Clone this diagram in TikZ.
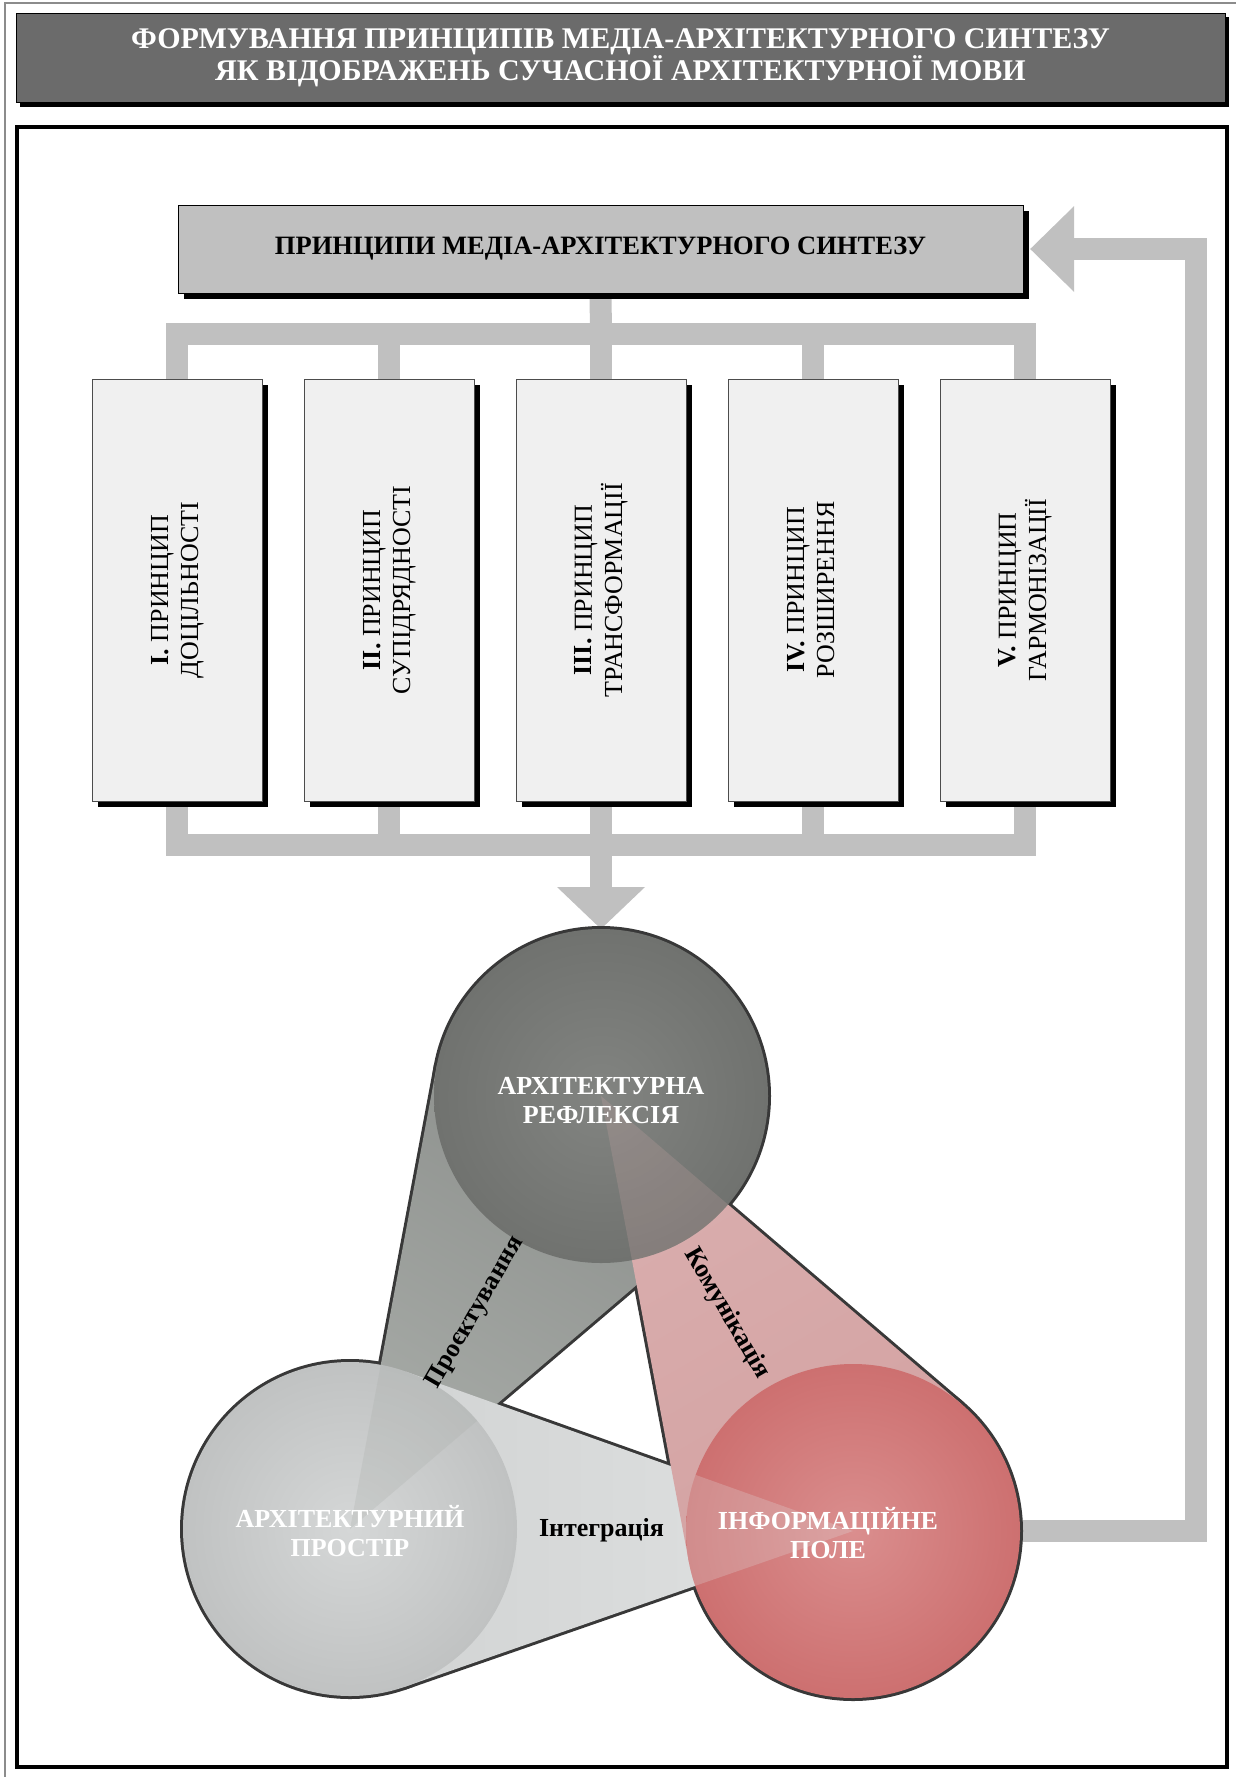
\documentclass[tikz,border=0pt]{standalone}
\usepackage{fontspec}
\setmainfont{Liberation Serif}
\usetikzlibrary{calc,shadows}

\definecolor{busgray}{HTML}{C0C0C0}
\definecolor{headgray}{HTML}{6B6B6B}
\definecolor{paper}{HTML}{F0F0F0}
\definecolor{rimline}{HTML}{383838}
% sphere and cone colours
\definecolor{reflin}{RGB}{130,132,129}
\definecolor{reflout}{RGB}{112,114,111}
\definecolor{spacein}{RGB}{213,215,215}
\definecolor{spaceout}{RGB}{192,194,194}
\definecolor{infoin}{RGB}{218,142,142}
\definecolor{infoout}{RGB}{205,112,112}
\definecolor{projtop}{RGB}{140,143,140}
\definecolor{projbot}{RGB}{168,172,168}
\definecolor{integl}{RGB}{210,212,212}
\definecolor{integr}{RGB}{224,226,226}
\definecolor{kommtop}{RGB}{217,174,174}
\definecolor{kommbot}{RGB}{212,162,162}

\pgfdeclarelayer{back}
\pgfsetlayers{back,main}

\begin{document}
\begin{tikzpicture}[x=1pt,y=-1pt,
  font=\fontsize{26}{30}\selectfont,
  shadowed/.style={drop shadow={shadow xshift=#1,shadow yshift=-#1,opacity=1,fill=black}},
  titlebox/.style={draw=black,fill=headgray,text=white,align=center,
    font=\fontsize{30}{30}\selectfont\bfseries,
    minimum width=1209pt,minimum height=89pt,shadowed=4pt},
  mainbox/.style={draw=black,fill=busgray,font=\fontsize{26.5}{30}\selectfont\bfseries,
    minimum width=845pt,minimum height=88pt,shadowed=6pt},
  prbox/.style={draw=black!70,fill=paper,minimum width=170pt,minimum height=422pt,
    inner sep=0pt,shadowed=6pt},
  hub/.style={circle,minimum size=334pt,inner sep=0pt,outer sep=0pt},
  hubtext/.style={text=white,align=center,inner sep=0pt,font=\fontsize{26}{29}\selectfont\bfseries},
  conelabel/.style={inner sep=0pt,font=\fontsize{26}{30}\selectfont\bfseries},
  bus/.style={draw=busgray,line width=22pt,line join=miter},
  rim/.style={draw=rimline,line width=6pt,line join=round},
]
\useasboundingbox (0,0) rectangle (1236,1777);

% page edge and frame
\draw[black!45,line width=1.5pt] (5,1777) -- (5,3) -- (1236,3);
\draw[line width=3.5pt] (17,127) rectangle (1227,1767);

\node[titlebox] (title) at (620.5,58)
  {ФОРМУВАННЯ ПРИНЦИПІВ МЕДІА-АРХІТЕКТУРНОГО СИНТЕЗУ\\ЯК ВІДОБРАЖЕНЬ СУЧАСНОЇ АРХІТЕКТУРНОЇ МОВИ};

\node[mainbox] (princ) at (600.5,249) {ПРИНЦИПИ МЕДІА-АРХІТЕКТУРНОГО СИНТЕЗУ};

% the five principles
\foreach \num/\word [count=\i] in {I./ДОЦІЛЬНОСТІ,II./СУПІДРЯДНОСТІ,III./ТРАНСФОРМАЦІЇ,IV./РОЗШИРЕННЯ,V./ГАРМОНІЗАЦІЇ}
  \node[prbox] (p\i) at (-35+212*\i,590)
    {\rotatebox{90}{\begin{tabular}{@{}c@{}}\textbf{\num} ПРИНЦИП\\\word\end{tabular}}};

% three spheres
\node[hub] (refl)  at (601,1096) {};
\node[hub] (space) at (350,1529) {};
\node[hub] (info)  at (853,1531) {};

\node[hubtext] (refl-txt)  at ($(refl)+(0,5)$)    {АРХІТЕКТУРНА\\РЕФЛЕКСІЯ};
\node[hubtext] (space-txt) at ($(space)+(0,2)$)   {АРХІТЕКТУРНИЙ\\ПРОСТІР};
\node[hubtext] (info-txt)  at ($(info)+(-25,2)$)  {ІНФОРМАЦІЙНЕ\\ПОЛЕ};

% cones: tangents from the centre of one sphere to the next one
\coordinate (pa) at (tangent cs:node=refl,point={(space.center)},solution=1);
\coordinate (pb) at (tangent cs:node=refl,point={(space.center)},solution=2);
\coordinate (ia) at (tangent cs:node=space,point={(info.center)},solution=1);
\coordinate (ib) at (tangent cs:node=space,point={(info.center)},solution=2);
\coordinate (ka) at (tangent cs:node=info,point={(refl.center)},solution=1);
\coordinate (kb) at (tangent cs:node=info,point={(refl.center)},solution=2);

\path (space.center) -- node[conelabel,sloped] (proj-lbl) {Проєктування} (refl.center);
\path (space.center) -- node[conelabel] (integ-lbl) {Інтеграція} (info.center);
\path (refl.center) -- node[conelabel,sloped] (komm-lbl) {Комунікація} (info.center);

\begin{pgfonlayer}{back}
  % bus lines
  \coordinate (bt) at (601,334);
  \coordinate (bb) at (601,845);
  \draw[bus] (p1.north) |- (bt) -| (p5.north);
  \draw[bus] (princ.south) -- (bt);
  \foreach \i in {2,3,4} \draw[bus] (p\i.north) -- (p\i.north |- bt);
  \draw[bus] (p1.south) |- (bb) -| (p5.south);
  \foreach \i in {2,3,4} \draw[bus] (p\i.south) -- (p\i.south |- bb);
  \draw[bus] (bb) -- ($(refl.north)+(0,-41)$);
  \fill[busgray] ($(refl.north)+(-44,-42)$) -- ($(refl.north)+(44,-42)$) -- (refl.north) -- cycle;

  % feedback
  \coordinate (fb) at ($(princ.east)+(173,0)$);
  \draw[bus] (info.east) -| (fb) -- ($(princ.east)+(51,0)$);
  \fill[busgray] ($(princ.east)+(51,-43)$) -- ($(princ.east)+(51,43)$) -- ($(princ.east)+(7,0)$) -- cycle;

  % one outline round the group: thick strokes, the fills hide their inner half
  \foreach \s in {refl,space,info} \draw[rim] (\s.center) circle[radius=167];
  \draw[rim] (space.center) -- (pa) -- (pb) -- cycle;
  \draw[rim] (info.center) -- (ia) -- (ib) -- cycle;
  \draw[rim] (refl.center) -- (ka) -- (kb) -- cycle;

  \shade[top color=projtop,bottom color=projbot,shading angle=-30] (space.center) -- (pa) -- (pb) -- cycle;
  \shade[left color=integl,right color=integr] (info.center) -- (ia) -- (ib) -- cycle;
  \shade[top color=kommtop,bottom color=kommbot,shading angle=30] (refl.center) -- (ka) -- (kb) -- cycle;

  \shade[inner color=reflin,outer color=reflout] (refl.center) circle[radius=167];
  \shade[inner color=spacein,outer color=spaceout] (space.center) circle[radius=167];
  \shade[inner color=infoin,outer color=infoout] (info.center) circle[radius=167];

  % narrow ends of the cones show faintly through the spheres
  \begin{scope}
    \clip (space.center) circle[radius=167];
    \fill[projbot,opacity=.25] (space.center) -- (pa) -- (pb) -- cycle;
  \end{scope}
  \begin{scope}
    \clip (info.center) circle[radius=167];
    \fill[integr,opacity=.25] (info.center) -- (ia) -- (ib) -- cycle;
  \end{scope}
  \begin{scope}
    \clip (refl.center) circle[radius=167];
    \fill[kommtop,opacity=.2] (refl.center) -- (ka) -- (kb) -- cycle;
  \end{scope}
\end{pgfonlayer}
\end{tikzpicture}
\end{document}
